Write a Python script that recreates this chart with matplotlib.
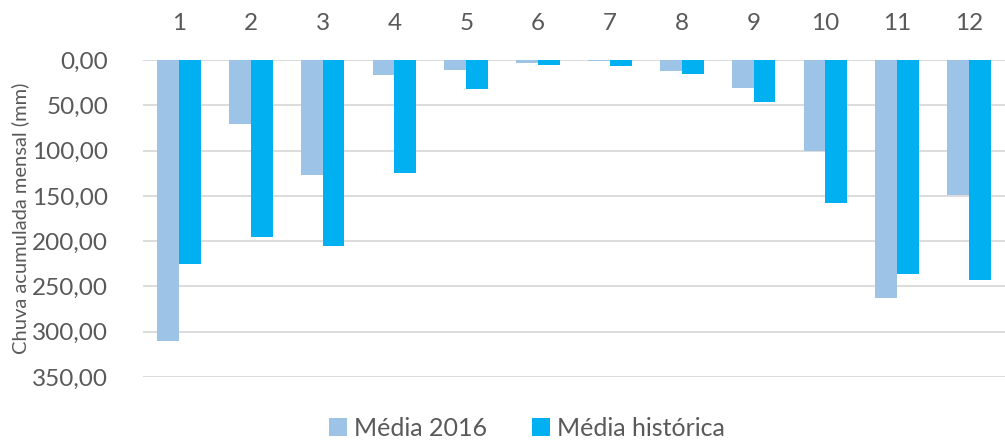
import matplotlib
matplotlib.use("Agg")
import matplotlib.pyplot as plt
import numpy as np
from matplotlib.ticker import FuncFormatter, MultipleLocator

months = ["1", "2", "3", "4", "5", "6", "7", "8", "9", "10", "11", "12"]
media_2016 = [310.0, 70.5, 127.0, 16.5, 11.5, 3.0, 1.0, 12.0, 31.0, 101.0, 262.5, 149.0]
media_hist = [225.5, 195.0, 205.0, 124.5, 31.5, 6.0, 7.0, 15.0, 46.0, 157.5, 236.0, 243.0]
series_names = ["Média 2016", "Média histórica"]

c2016 = "#9DC3E6"
chist = "#00B0F0"
txt = "#595959"

plt.rcParams['font.family'] = ['Lato', 'DejaVu Sans']

fig = plt.figure(figsize=(10.05, 4.40), dpi=100)
ax = fig.add_axes([143/1005, 1-377/440, 1-143/1005, (377-60)/440])

x = np.arange(len(months))
w = 0.305
b1 = ax.bar(x - w/2, media_2016, width=w, color=c2016, label=series_names[0], zorder=3)
b2 = ax.bar(x + w/2, media_hist, width=w, color=chist, label=series_names[1], zorder=3)

ax.set_xlim(-0.5, len(months) - 0.5)
ax.set_ylim(350, 0)
ax.yaxis.set_major_locator(MultipleLocator(50))
ax.yaxis.set_major_formatter(FuncFormatter(lambda v, p: f"{v:.2f}".replace(".", ",")))
ax.grid(axis='y', color='#D9D9D9', linewidth=1.3, zorder=0)
ax.set_axisbelow(True)
for s in ax.spines.values():
    s.set_visible(False)

ax.xaxis.tick_top()
ax.set_xticks(x)
ax.set_xticklabels(months)
ax.tick_params(axis='x', length=0, pad=19, labelsize=17.5, labelcolor=txt)
ax.tick_params(axis='y', length=0, pad=25, labelsize=17.5, labelcolor=txt)

ax.set_ylabel("Chuva acumulada mensal (mm)", fontsize=14.5, color=txt)
ax.yaxis.set_label_coords(-(143 - 29)/862, 0.5)

fig.legend(handles=[b1, b2], labels=series_names, loc='center',
           bbox_to_anchor=(527/1005, 1-428/440), ncol=2, frameon=False,
           fontsize=18, labelcolor=txt, handlelength=0.7, handleheight=0.7,
           handletextpad=0.3, columnspacing=1.8)

fig.savefig("out.png", dpi=100)
